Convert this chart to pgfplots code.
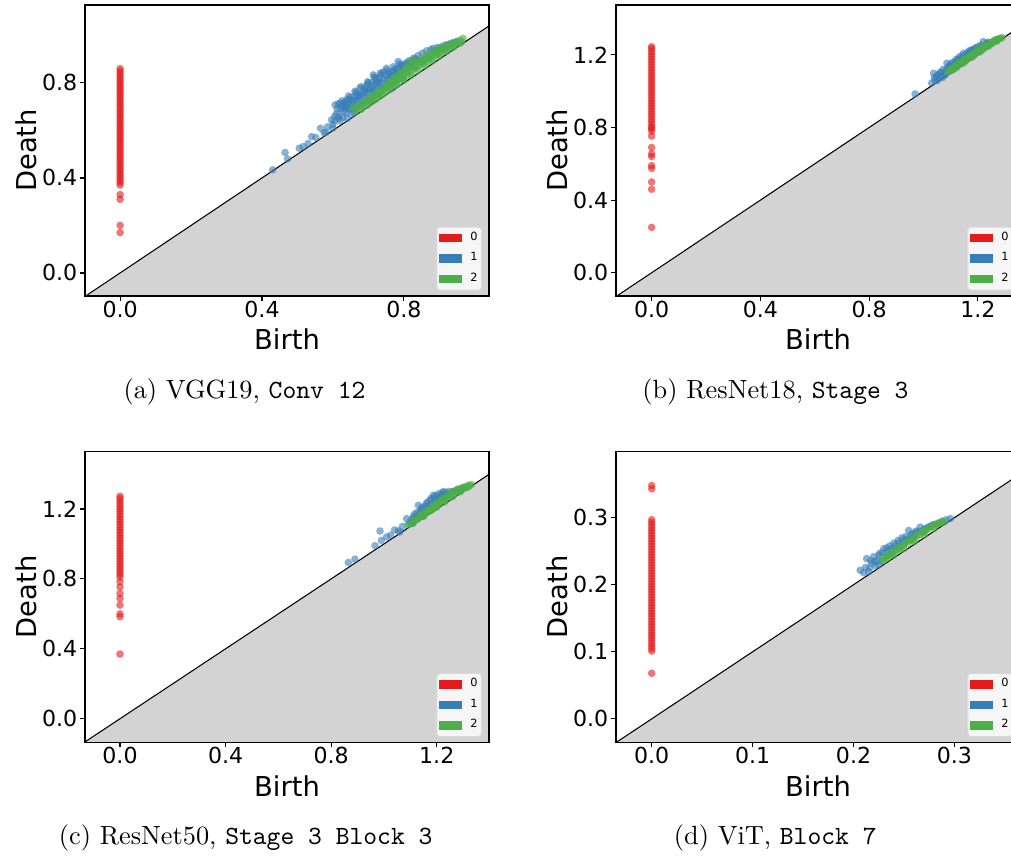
\documentclass[border=0pt]{standalone}
\usepackage{pgfplots}
\pgfplotsset{compat=1.18}
\usepackage{fontspec}
\newfontfamily\dv{DejaVu Sans}
\definecolor{setred}{HTML}{E41A1C}
\definecolor{setblue}{HTML}{377EB8}
\definecolor{setgreen}{HTML}{4DAF4A}
\definecolor{diaggray}{HTML}{D3D3D3}
\pgfplotsset{
  pd/.style={
    scale only axis, width=153.52pt, height=110.58pt,
    axis on top, tick pos=left, tick align=outside,
    major tick length=1.9pt,
    axis line style={line width=0.45pt},
    every tick/.style={black, line width=0.45pt},
    tick label style={font=\dv\fontsize{8.4}{10}\selectfont, inner sep=0pt},
    xticklabel style={yshift=0.3pt},
    yticklabel style={xshift=-0.85pt},
    /pgf/number format/.cd, fixed, fixed zerofill, precision=1, assume math mode=true,
    /pgfplots/.cd,
    xlabel={Birth}, ylabel={Death},
    every axis x label/.style={at={([yshift=-20.5pt]axis description cs:0.5,0)}, anchor=base, font=\dv\fontsize{10.4}{12}\selectfont},
    every axis y label/.style={at={([xshift=-18.6pt]axis description cs:0,0.5)}, rotate=90, anchor=base, font=\dv\fontsize{10.4}{12}\selectfont},
    legend style={at={(0.983,0.018)}, anchor=south east, draw=black!15, fill=white, fill opacity=0.8, text opacity=1,
      rounded corners=1.2pt, font=\dv\fontsize{4.3}{5}\selectfont, inner xsep=0.9pt, inner ysep=1.3pt,
      nodes={inner sep=0.6pt}, row sep=1.9pt, /tikz/every odd column/.append style={column sep=2.6pt}},
    legend cell align=left,
  },
  diag/.style={fill=diaggray, draw=none, forget plot},
  dline/.style={black, line width=0.4pt, forget plot},
  pr/.style={only marks, mark=*, mark size=1.45pt, color=setred, mark options={draw=none, draw opacity=0, fill=setred, fill opacity=0.6},
     legend image code/.code={\fill[setred, draw=none, fill opacity=1, sharp corners] (0pt,-1.6pt) rectangle (8.7pt,1.6pt);}},
  pb/.style={only marks, mark=*, mark size=1.45pt, color=setblue, mark options={draw=none, draw opacity=0, fill=setblue, fill opacity=0.6},
     legend image code/.code={\fill[setblue, draw=none, fill opacity=1, sharp corners] (0pt,-1.6pt) rectangle (8.7pt,1.6pt);}},
  pg/.style={only marks, mark=*, mark size=1.45pt, color=setgreen, mark options={draw=none, draw opacity=0, fill=setgreen, fill opacity=0.6},
     legend image code/.code={\fill[setgreen, draw=none, fill opacity=1, sharp corners] (0pt,-1.6pt) rectangle (8.7pt,1.6pt);}},
}
\begin{document}
\begin{tikzpicture}
\path[use as bounding box] (0pt,0pt) rectangle (384.18pt,325.28pt);
\clip (0pt,0pt) rectangle (384.18pt,325.28pt);

% ---------------- (a) ----------------
\begin{axis}[pd, at={(32.3pt,212.8pt)}, anchor=south west,
  xmin=-0.099, xmax=1.04, ymin=-0.097, ymax=1.128,
  xtick={0,0.4,0.8}, ytick={0,0.4,0.8}]
\addplot[diag] coordinates {(-0.099,-0.099) (1.04,1.04) (1.04,-0.2) (-0.099,-0.2)};
\addplot[dline] coordinates {(-0.099,-0.099) (1.04,1.04)};
\addplot[pr] coordinates {(0,0.17) (0,0.20) (0,0.31) (0,0.33) (0,0.37) (0,0.38) (0,0.39) (0,0.40) (0,0.41) (0,0.42) (0,0.43) (0,0.44) (0,0.45) (0,0.46) (0,0.47) (0,0.48) (0,0.49) (0,0.50) (0,0.51) (0,0.52) (0,0.53) (0,0.54) (0,0.55) (0,0.56) (0,0.57) (0,0.58) (0,0.59) (0,0.60) (0,0.61) (0,0.62) (0,0.63) (0,0.64) (0,0.65) (0,0.66) (0,0.67) (0,0.68) (0,0.69) (0,0.70) (0,0.71) (0,0.72) (0,0.73) (0,0.74) (0,0.75) (0,0.76) (0,0.77) (0,0.78) (0,0.79) (0,0.80) (0,0.81) (0,0.82) (0,0.83) (0,0.84) (0,0.85) (0,0.86)};
\addlegendentry{0}
\addplot[pb] coordinates {(0.430,0.434) (0.465,0.507) (0.472,0.480) (0.505,0.525) (0.516,0.532) (0.530,0.545) (0.540,0.574) (0.552,0.570) (0.565,0.609) (0.575,0.590) (0.585,0.615) (0.596,0.644) (0.600,0.625) (0.605,0.660) (0.612,0.690) (0.615,0.650) (0.620,0.714) (0.625,0.700) (0.630,0.680) (0.635,0.720) (0.640,0.705) (0.645,0.690) (0.648,0.730) (0.652,0.668) (0.655,0.715) (0.660,0.740) (0.665,0.700) (0.668,0.755) (0.672,0.725) (0.676,0.778) (0.680,0.745) (0.683,0.712) (0.688,0.770) (0.692,0.735) (0.696,0.790) (0.700,0.760) (0.704,0.725) (0.708,0.800) (0.712,0.770) (0.714,0.834) (0.718,0.745) (0.722,0.810) (0.726,0.785) (0.730,0.820) (0.734,0.760) (0.738,0.800) (0.742,0.845) (0.746,0.780) (0.751,0.862) (0.755,0.820) (0.760,0.800) (0.764,0.845) (0.768,0.778) (0.772,0.830) (0.776,0.860) (0.780,0.810) (0.784,0.890) (0.788,0.840) (0.792,0.870) (0.798,0.820) (0.804,0.880) (0.810,0.850) (0.816,0.895) (0.822,0.870) (0.828,0.905) (0.834,0.880) (0.840,0.915) (0.846,0.890) (0.852,0.925) (0.858,0.900) (0.864,0.935) (0.870,0.910) (0.876,0.940) (0.883,0.946) (0.890,0.935) (0.896,0.950) (0.902,0.945) (0.910,0.955) (0.918,0.960) (0.926,0.962) (0.934,0.968) (0.942,0.970) (0.950,0.975) (0.600,0.610) (0.640,0.650) (0.580,0.592) (0.620,0.640) (0.660,0.675)
 (0.605,0.640) (0.610,0.670) (0.618,0.660) (0.622,0.690) (0.628,0.655) (0.633,0.700) (0.638,0.675) (0.643,0.715) (0.650,0.695) (0.657,0.725) (0.662,0.690) (0.667,0.730) (0.674,0.750) (0.678,0.705) (0.685,0.755) (0.690,0.720) (0.698,0.770) (0.702,0.740) (0.710,0.785) (0.716,0.760) (0.720,0.795) (0.728,0.770) (0.732,0.805) (0.740,0.780) (0.748,0.830) (0.753,0.800) (0.758,0.840) (0.766,0.820) (0.770,0.850) (0.778,0.835) (0.782,0.860) (0.790,0.850) (0.796,0.875) (0.802,0.860) (0.808,0.885) (0.814,0.870) (0.820,0.890) (0.826,0.885) (0.832,0.900) (0.838,0.895) (0.700,0.800) (0.690,0.780) (0.665,0.760) (0.650,0.740) (0.640,0.730) (0.630,0.715) (0.720,0.820) (0.735,0.835) (0.606,0.707) (0.615,0.712)
 (0.626,0.725) (0.644,0.745) (0.662,0.765) (0.680,0.785) (0.698,0.805) (0.716,0.825) (0.734,0.842) (0.752,0.852) (0.770,0.868) (0.788,0.880) (0.636,0.695) (0.654,0.710) (0.672,0.740) (0.690,0.760) (0.708,0.775) (0.726,0.800) (0.744,0.815) (0.762,0.830) (0.780,0.845) (0.798,0.860)};
\addlegendentry{1}
\addplot[pg] coordinates {(0.657,0.700) (0.665,0.680) (0.672,0.705) (0.680,0.690) (0.688,0.720) (0.695,0.705) (0.702,0.740) (0.708,0.720) (0.715,0.735) (0.720,0.755) (0.726,0.740) (0.732,0.770) (0.738,0.750) (0.744,0.780) (0.750,0.765) (0.756,0.800) (0.762,0.780) (0.768,0.810) (0.774,0.790) (0.780,0.825) (0.786,0.800) (0.792,0.840) (0.798,0.815) (0.804,0.860) (0.810,0.830) (0.816,0.880) (0.822,0.845) (0.826,0.897) (0.832,0.860) (0.838,0.890) (0.844,0.870) (0.850,0.900) (0.856,0.880) (0.862,0.915) (0.868,0.890) (0.874,0.925) (0.880,0.900) (0.886,0.935) (0.892,0.915) (0.898,0.945) (0.904,0.925) (0.910,0.950) (0.916,0.935) (0.922,0.958) (0.928,0.945) (0.934,0.965) (0.940,0.955) (0.946,0.972) (0.952,0.965) (0.958,0.980) (0.963,0.975) (0.967,0.988) (0.680,0.690) (0.700,0.710) (0.720,0.730) (0.740,0.752) (0.760,0.772) (0.780,0.792) (0.800,0.812) (0.820,0.832) (0.840,0.852) (0.860,0.872) (0.880,0.892) (0.900,0.912) (0.920,0.932) (0.940,0.950) (0.960,0.968) (0.710,0.730) (0.730,0.752) (0.750,0.778) (0.770,0.798) (0.790,0.820) (0.810,0.845) (0.830,0.865) (0.850,0.885) (0.870,0.905) (0.890,0.922) (0.910,0.938) (0.930,0.952)
 (0.665,0.690) (0.677,0.702) (0.689,0.714) (0.701,0.727) (0.713,0.740) (0.725,0.752) (0.737,0.765) (0.749,0.778) (0.761,0.790) (0.773,0.803) (0.785,0.816) (0.797,0.829) (0.809,0.842) (0.821,0.855) (0.833,0.867) (0.845,0.878) (0.857,0.890) (0.869,0.900) (0.881,0.912) (0.893,0.922) (0.905,0.932) (0.917,0.942) (0.929,0.952) (0.941,0.960) (0.953,0.970) (0.760,0.806) (0.775,0.825) (0.790,0.842) (0.805,0.860) (0.820,0.878) (0.835,0.885) (0.850,0.895) (0.865,0.908) (0.880,0.920) (0.895,0.935)};
\addlegendentry{2}
\end{axis}

% ---------------- (b) ----------------
\begin{axis}[pd, at={(234.08pt,212.8pt)}, anchor=south west,
  xmin=-0.131, xmax=1.355, ymin=-0.128, ymax=1.475,
  xtick={0,0.4,0.8,1.2}, ytick={0,0.4,0.8,1.2}]
\addplot[diag] coordinates {(-0.131,-0.131) (1.355,1.355) (1.355,-0.2) (-0.131,-0.2)};
\addplot[dline] coordinates {(-0.131,-0.131) (1.355,1.355)};
\addplot[pr] coordinates {(0,0.25) (0,0.46) (0,0.50) (0,0.575) (0,0.59) (0,0.64) (0,0.655) (0,0.69) (0,0.753) (0,0.78) (0,0.795) (0,0.80) (0,0.815) (0,0.83) (0,0.845) (0,0.86) (0,0.875) (0,0.89) (0,0.905) (0,0.92) (0,0.935) (0,0.95) (0,0.965) (0,0.98) (0,0.995) (0,1.01) (0,1.025) (0,1.04) (0,1.055) (0,1.07) (0,1.085) (0,1.10) (0,1.115) (0,1.13) (0,1.145) (0,1.16) (0,1.175) (0,1.19) (0,1.205) (0,1.22) (0,1.235) (0,1.245)};
\addlegendentry{0}
\addplot[pb] coordinates {(0.969,0.985) (1.030,1.045) (1.037,1.099) (1.042,1.060) (1.048,1.080) (1.055,1.070) (1.060,1.100) (1.066,1.085) (1.072,1.120) (1.078,1.100) (1.086,1.154) (1.090,1.120) (1.096,1.140) (1.102,1.115) (1.108,1.160) (1.114,1.140) (1.120,1.175) (1.126,1.150) (1.132,1.190) (1.138,1.165) (1.147,1.209) (1.152,1.180) (1.158,1.200) (1.164,1.215) (1.170,1.195) (1.176,1.225) (1.182,1.210) (1.188,1.232) (1.194,1.220) (1.200,1.245) (1.206,1.230) (1.212,1.255) (1.220,1.273) (1.226,1.250) (1.232,1.262) (1.240,1.265) (1.250,1.270) (1.260,1.278) (1.270,1.285) (1.050,1.058) (1.080,1.090)
 (1.040,1.075) (1.052,1.090) (1.064,1.105) (1.070,1.075) (1.084,1.120) (1.092,1.135) (1.100,1.150) (1.110,1.125) (1.118,1.160) (1.128,1.175) (1.136,1.180) (1.144,1.195) (1.160,1.205) (1.168,1.222) (1.180,1.230) (1.192,1.240) (1.210,1.245) (1.236,1.270)};
\addlegendentry{1}
\addplot[pg] coordinates {(1.090,1.105) (1.100,1.125) (1.108,1.118) (1.116,1.140) (1.124,1.135) (1.132,1.158) (1.140,1.150) (1.148,1.175) (1.156,1.168) (1.164,1.190) (1.172,1.185) (1.180,1.210) (1.188,1.200) (1.196,1.225) (1.204,1.215) (1.212,1.240) (1.220,1.232) (1.228,1.252) (1.236,1.248) (1.244,1.262) (1.252,1.262) (1.260,1.275) (1.268,1.278) (1.276,1.288) (1.284,1.292) (1.290,1.296) (1.120,1.128) (1.150,1.158) (1.180,1.188) (1.210,1.218) (1.240,1.248) (1.270,1.276)
 (1.095,1.112) (1.104,1.118) (1.112,1.130) (1.120,1.138) (1.128,1.148) (1.136,1.155) (1.144,1.165) (1.152,1.172) (1.160,1.180) (1.168,1.190) (1.176,1.197) (1.184,1.205) (1.192,1.212) (1.200,1.222) (1.208,1.230) (1.216,1.236) (1.224,1.244) (1.232,1.255) (1.248,1.266) (1.256,1.270) (1.264,1.283) (1.280,1.290)};
\addlegendentry{2}
\end{axis}

% ---------------- (c) ----------------
\begin{axis}[pd, at={(32.3pt,43.2pt)}, anchor=south west,
  xmin=-0.1326, xmax=1.398, ymin=-0.135, ymax=1.53,
  xtick={0,0.4,0.8,1.2}, ytick={0,0.4,0.8,1.2}]
\addplot[diag] coordinates {(-0.1326,-0.1326) (1.398,1.398) (1.398,-0.2) (-0.1326,-0.2)};
\addplot[dline] coordinates {(-0.1326,-0.1326) (1.398,1.398)};
\addplot[pr] coordinates {(0,0.37) (0,0.583) (0,0.60) (0,0.65) (0,0.688) (0,0.717) (0,0.754) (0,0.783) (0,0.81) (0,0.825) (0,0.84) (0,0.855) (0,0.87) (0,0.885) (0,0.90) (0,0.915) (0,0.93) (0,0.945) (0,0.96) (0,0.975) (0,0.99) (0,1.005) (0,1.02) (0,1.035) (0,1.05) (0,1.065) (0,1.08) (0,1.095) (0,1.11) (0,1.125) (0,1.14) (0,1.155) (0,1.17) (0,1.185) (0,1.20) (0,1.215) (0,1.23) (0,1.245) (0,1.26) (0,1.273)};
\addlegendentry{0}
\addplot[pb] coordinates {(0.865,0.894) (0.890,0.913) (0.966,0.990) (0.985,1.074) (0.990,1.020) (1.010,1.040) (1.025,1.050) (1.040,1.080) (1.055,1.075) (1.070,1.100) (1.086,1.145) (1.095,1.115) (1.105,1.140) (1.115,1.170) (1.122,1.150) (1.130,1.221) (1.138,1.190) (1.145,1.210) (1.152,1.180) (1.160,1.230) (1.168,1.205) (1.175,1.250) (1.182,1.225) (1.187,1.278) (1.194,1.245) (1.200,1.265) (1.208,1.235) (1.215,1.275) (1.225,1.300) (1.232,1.270) (1.240,1.290) (1.250,1.285) (1.260,1.300) (1.270,1.305) (1.280,1.310) (1.290,1.315) (1.300,1.320) (1.060,1.068) (1.110,1.118) (1.150,1.158)
 (1.100,1.125) (1.112,1.155) (1.125,1.180) (1.135,1.170) (1.142,1.200) (1.156,1.215) (1.165,1.240) (1.172,1.220) (1.178,1.260) (1.190,1.265) (1.198,1.280) (1.205,1.255) (1.212,1.290) (1.220,1.285) (1.230,1.295) (1.245,1.300) (1.130,1.150)};
\addlegendentry{1}
\addplot[pg] coordinates {(1.090,1.110) (1.100,1.120) (1.110,1.125) (1.120,1.140) (1.130,1.145) (1.140,1.165) (1.150,1.165) (1.160,1.190) (1.170,1.185) (1.180,1.215) (1.190,1.205) (1.200,1.240) (1.210,1.228) (1.220,1.262) (1.230,1.250) (1.240,1.282) (1.250,1.268) (1.260,1.300) (1.270,1.290) (1.280,1.315) (1.290,1.305) (1.300,1.325) (1.310,1.320) (1.320,1.333) (1.332,1.340) (1.200,1.210) (1.230,1.240) (1.260,1.270) (1.290,1.298) (1.320,1.326) (1.180,1.192) (1.150,1.160)
 (1.105,1.117) (1.115,1.132) (1.125,1.140) (1.135,1.155) (1.145,1.162) (1.155,1.175) (1.165,1.185) (1.175,1.198) (1.185,1.205) (1.195,1.222) (1.205,1.225) (1.215,1.245) (1.225,1.250) (1.235,1.262) (1.245,1.270) (1.255,1.285) (1.265,1.288) (1.275,1.302) (1.285,1.305) (1.295,1.318) (1.305,1.322) (1.315,1.332) (1.325,1.336)};
\addlegendentry{2}
\end{axis}

% ---------------- (d) ----------------
\begin{axis}[pd, at={(234.08pt,43.2pt)}, anchor=south west,
  xmin=-0.0354, xmax=0.365, ymin=-0.035, ymax=0.399,
  xtick={0,0.1,0.2,0.3}, ytick={0,0.1,0.2,0.3}]
\addplot[diag] coordinates {(-0.0354,-0.0354) (0.365,0.365) (0.365,-0.1) (-0.0354,-0.1)};
\addplot[dline] coordinates {(-0.0354,-0.0354) (0.365,0.365)};
\addplot[pr] coordinates {(0,0.068) (0,0.101) (0,0.105) (0,0.109) (0,0.113) (0,0.117) (0,0.121) (0,0.125) (0,0.129) (0,0.133) (0,0.137) (0,0.141) (0,0.145) (0,0.149) (0,0.153) (0,0.157) (0,0.161) (0,0.165) (0,0.169) (0,0.173) (0,0.177) (0,0.181) (0,0.185) (0,0.189) (0,0.193) (0,0.197) (0,0.201) (0,0.205) (0,0.209) (0,0.213) (0,0.217) (0,0.221) (0,0.225) (0,0.229) (0,0.233) (0,0.237) (0,0.241) (0,0.245) (0,0.249) (0,0.253) (0,0.257) (0,0.261) (0,0.265) (0,0.269) (0,0.273) (0,0.277) (0,0.281) (0,0.285) (0,0.289) (0,0.293) (0,0.297) (0,0.343) (0,0.348)};
\addlegendentry{0}
\addplot[pb] coordinates {(0.2066,0.2216) (0.210,0.218) (0.213,0.239) (0.216,0.225) (0.218,0.232) (0.220,0.242) (0.222,0.228) (0.224,0.236) (0.226,0.247) (0.228,0.235) (0.230,0.254) (0.232,0.243) (0.234,0.250) (0.236,0.258) (0.238,0.246) (0.240,0.262) (0.242,0.252) (0.244,0.266) (0.246,0.256) (0.248,0.270) (0.250,0.262) (0.2546,0.281) (0.252,0.272) (0.256,0.268) (0.258,0.276) (0.260,0.272) (0.262,0.280) (0.266,0.286) (0.268,0.279) (0.272,0.284) (0.276,0.287) (0.280,0.290) (0.284,0.292) (0.288,0.295) (0.292,0.297) (0.296,0.2987) (0.215,0.2195) (0.225,0.230)
 (0.212,0.226) (0.217,0.236) (0.221,0.235) (0.225,0.244) (0.229,0.248) (0.233,0.255) (0.237,0.253) (0.241,0.258) (0.245,0.262) (0.249,0.266) (0.253,0.268) (0.257,0.274) (0.261,0.278) (0.265,0.280) (0.270,0.283) (0.274,0.286) (0.278,0.289)};
\addlegendentry{1}
\addplot[pg] coordinates {(0.228,0.238) (0.232,0.240) (0.236,0.247) (0.240,0.250) (0.244,0.256) (0.248,0.258) (0.252,0.264) (0.256,0.266) (0.260,0.272) (0.264,0.274) (0.268,0.280) (0.272,0.281) (0.276,0.286) (0.280,0.289) (0.284,0.292) (0.288,0.294) (0.290,0.2935) (0.240,0.244) (0.250,0.254) (0.260,0.264) (0.270,0.274) (0.280,0.284) (0.234,0.243) (0.246,0.252) (0.258,0.268) (0.270,0.278)
 (0.230,0.236) (0.234,0.240) (0.238,0.245) (0.242,0.250) (0.246,0.254) (0.250,0.259) (0.254,0.262) (0.258,0.266) (0.262,0.270) (0.266,0.275) (0.270,0.280) (0.274,0.283) (0.278,0.287) (0.282,0.289) (0.286,0.292)};
\addlegendentry{2}
\end{axis}

\node[anchor=base] at (92.91pt,173.66pt) {(a) VGG19, \texttt{Conv 12}};
\node[anchor=base] at (294.69pt,173.66pt) {(b) ResNet18, \texttt{Stage 3}};
\node[anchor=base] at (93.37pt,4.18pt) {(c) ResNet50, \texttt{Stage 3 Block 3}};
\node[anchor=base] at (294.6pt,4.18pt) {(d) ViT, \texttt{Block 7}};
\end{tikzpicture}
\end{document}
